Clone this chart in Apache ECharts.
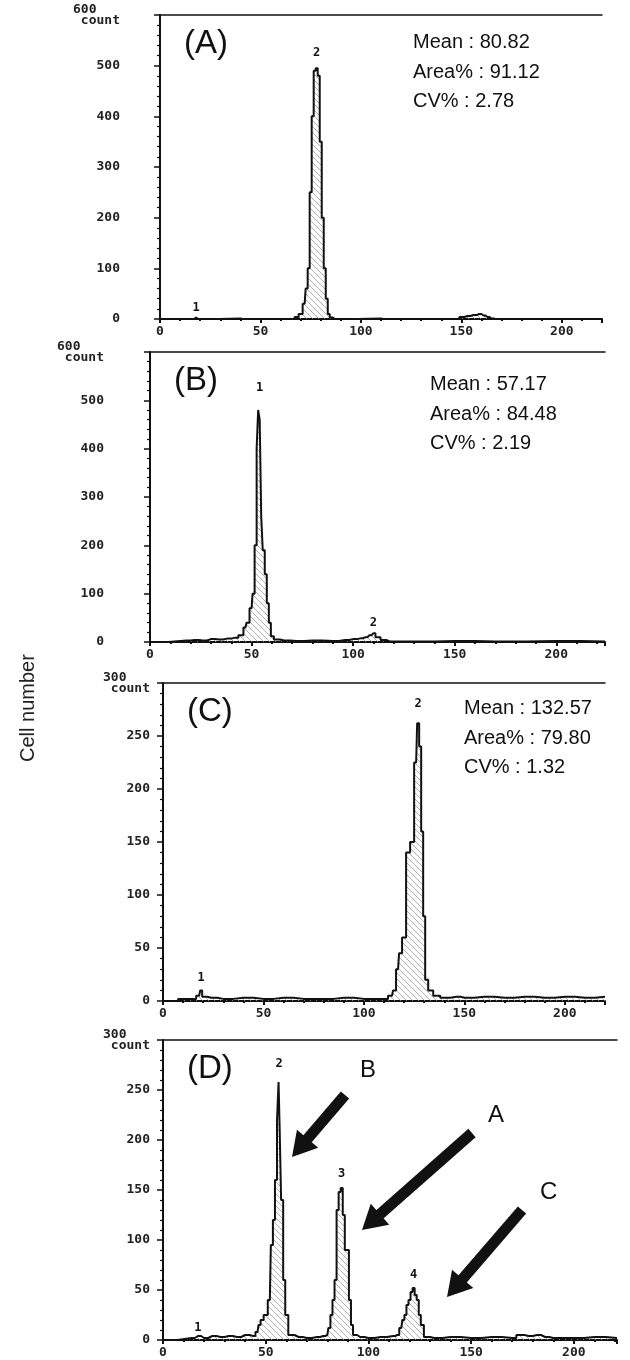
<!DOCTYPE html>
<html><head><meta charset="utf-8">
<script src="https://cdn.jsdelivr.net/npm/echarts@6/dist/echarts.min.js"></script>
<style>html,body{margin:0;background:#fff}#main{width:630px;height:1360px}</style>
</head><body><div id="main"></div>
<script>
// histogram data: [channel, count]
var histA = [[0,0],[16,0],[18,3],[19,0],[40,1],[41,0],[66,0],[68,4],[70,10],[72,30],[73,60],[74,100],[75,250],[76,400],[77,490],[78,495],[79,480],[80,350],[81,200],[82,100],[83,40],[84,10],[85,3],[87,0],[110,1],[111,0],[148,0],[150,4],[153,6],[156,8],[159,10],[161,7],[163,4],[165,1],[167,0],[220,0]];
var histB = [[0,0],[18,3],[22,4],[26,3],[30,6],[34,5],[38,7],[42,9],[45,14],[47,30],[48,40],[50,70],[51,100],[52,200],[53,400],[53.5,480],[54.5,460],[55,260],[56,190],[57,140],[58,80],[59,40],[60,12],[62,5],[66,3],[72,2],[80,3],[90,2],[96,4],[100,6],[104,8],[106,10],[108,14],[110,18],[112,10],[115,4],[118,1],[130,1],[150,2],[170,1],[200,2],[224,1]];
var histC = [[0,0],[15,2],[18,5],[19,10],[20,4],[24,3],[30,2],[40,3],[50,2],[60,3],[70,2],[80,2],[90,3],[100,2],[110,2],[114,5],[115,10],[117,30],[118,45],[120,60],[122,140],[124,150],[126,225],[127,262],[128,240],[129,160],[130,80],[131,20],[133,10],[136,5],[140,3],[146,4],[150,3],[160,4],[170,3],[180,4],[190,3],[200,4],[210,3],[220,4]];
var histD = [[0,0],[14,2],[17,4],[20,2],[24,4],[28,3],[32,4],[36,3],[40,5],[44,4],[46,8],[47,15],[48,20],[50,25],[52,40],[53,95],[54,120],[55,160],[56,220],[56.5,258],[57,215],[58,140],[59,60],[60,25],[62,5],[66,3],[70,2],[75,3],[78,4],[80,5],[81,12],[82,25],[83,40],[84,60],[85,130],[86,148],[87,152],[88,125],[89,90],[90,90],[91,40],[92,15],[93,5],[96,3],[100,2],[106,3],[112,4],[114,5],[116,12],[117,20],[118,25],[119,35],[120,40],[121,48],[122,52],[123,45],[124,40],[125,25],[126,15],[128,3],[132,2],[140,3],[150,2],[160,3],[170,2],[174,5],[178,4],[182,5],[186,3],[190,2],[200,2],[210,3],[221,2]];
var yMaxList = [600, 600, 300, 300];
var yStepList = [100, 100, 50, 50];
var xMaxList = [220, 224, 220, 221];
var peakLabels = [
  [[18, 1, 22], [78, 2, 525]],
  [[54, 1, 525], [110, 2, 40]],
  [[19, 1, 22], [127, 2, 280]],
  [[17, 1, 12], [56.5, 2, 276], [87, 3, 166], [122, 4, 65]]
];
var statTexts = [
  ['Mean : 80.82', 'Area% : 91.12', 'CV% : 2.78'],
  ['Mean : 57.17', 'Area% : 84.48', 'CV% : 2.19'],
  ['Mean : 132.57', 'Area% : 79.80', 'CV% : 1.32'],
  null
];
var panelNames = ['(A)', '(B)', '(C)', '(D)'];

var hists = [histA, histB, histC, histD];
var grids = [
  {left: 160, top: 15, width: 442, height: 304},
  {left: 150, top: 352, width: 455, height: 290},
  {left: 163, top: 683, width: 442, height: 318},
  {left: 163, top: 1040, width: 454, height: 300}
];
var yLabelMargin = [40, 46, 13, 13];

// hatch pattern
var pat = document.createElement('canvas');
pat.width = 6; pat.height = 6;
var pc = pat.getContext('2d');
pc.strokeStyle = '#999'; pc.lineWidth = 0.8;
pc.beginPath(); pc.moveTo(0, 0); pc.lineTo(6, 6); pc.stroke();
pc.beginPath(); pc.moveTo(-3, 3); pc.lineTo(3, 9); pc.stroke();
pc.beginPath(); pc.moveTo(3, -3); pc.lineTo(9, 3); pc.stroke();

var tickFont = {fontFamily: 'DejaVu Sans Mono', fontWeight: 'bold', fontSize: 13, color: '#222'};
var xAxes = [], yAxes = [], series = [], graphics = [];
grids.forEach(function (g, i) {
  xAxes.push({gridIndex: i, type: 'value', min: 0, max: xMaxList[i], interval: 50,
    axisLine: {lineStyle: {color: '#111', width: 2}},
    axisTick: {show: true, length: 4, lineStyle: {color: '#111', width: 2}},
    minorTick: {show: true, splitNumber: 5, length: 2, lineStyle: {color: '#111', width: 2}},
    splitLine: {show: false},
    axisLabel: Object.assign({margin: 6, showMaxLabel: false}, tickFont)});
  xAxes.push({gridIndex: i, type: 'value', position: 'top', min: 0, max: xMaxList[i],
    axisLine: {onZero: false, lineStyle: {color: '#111', width: 1.5}},
    axisTick: {show: false}, axisLabel: {show: false}, splitLine: {show: false}});
  var ym = yMaxList[i];
  yAxes.push({gridIndex: i, type: 'value', min: 0, max: ym, interval: yStepList[i],
    axisLine: {show: true, lineStyle: {color: '#111', width: 2}},
    axisTick: {show: true, length: 6, lineStyle: {color: '#111', width: 1.5}},
    minorTick: {show: true, splitNumber: 5, length: 3, lineStyle: {color: '#111', width: 1.2}},
    splitLine: {show: false},
    axisLabel: Object.assign({margin: yLabelMargin[i], align: 'right',
      formatter: function (v) { return v === ym ? '{t|' + v + '   }\n{t|count}' : '{t|' + v + '}'; },
      rich: {t: Object.assign({lineHeight: 11}, tickFont)}}, tickFont)});
  series.push({type: 'line', xAxisIndex: i * 2, yAxisIndex: i, data: hists[i], step: 'middle',
    symbol: 'none', lineStyle: {color: '#111', width: 2},
    areaStyle: {color: {image: pat, repeat: 'repeat'}, opacity: 1},
    markPoint: {symbol: 'circle', symbolSize: 0,
      label: {show: true, position: 'inside', formatter: '{b}', fontFamily: 'DejaVu Sans Mono', fontWeight: 'bold', fontSize: 12, color: '#111'},
      data: peakLabels[i].map(function (p) { return {name: String(p[1]), coord: [p[0], p[2]]}; })}});
  graphics.push({type: 'text', left: g.left + 24, top: g.top + 12,
    style: {text: panelNames[i], font: '33px "Liberation Sans"', fill: '#111'}});
  if (statTexts[i]) {
    var sx = [413, 430, 464][i], sy = [28, 370, 694][i];
    graphics.push({type: 'text', left: sx, top: sy,
      style: {text: statTexts[i].join('\n'), font: '20px "Liberation Sans"', lineHeight: 29.5, fill: '#111'}});
  }
});

// arrows in panel D
var arrows = [[345, 1095, 292, 1157, 'B', 360, 1058], [472, 1133, 362, 1230, 'A', 488, 1103], [522, 1210, 447, 1297, 'C', 540, 1180]];
arrows.forEach(function (a) {
  var dx = a[2] - a[0], dy = a[3] - a[1], L = Math.sqrt(dx * dx + dy * dy);
  var ux = dx / L, uy = dy / L, nx = -uy, ny = ux, h = 24, w = 14;
  var bx = a[2] - ux * h, by = a[3] - uy * h;
  graphics.push({type: 'line', shape: {x1: a[0], y1: a[1], x2: bx + ux * 4, y2: by + uy * 4}, style: {stroke: '#111', lineWidth: 11}});
  graphics.push({type: 'polygon', shape: {points: [[a[2], a[3]], [bx + nx * w, by + ny * w], [bx - nx * w, by - ny * w]]}, style: {fill: '#111'}});
  graphics.push({type: 'text', left: a[5], top: a[6], style: {text: a[4], font: '24px "Liberation Sans"', fill: '#111'}});
});
graphics.push({type: 'text', x: 18, y: 762, rotation: Math.PI / 2,
  style: {text: 'Cell number', font: '20px "Liberation Sans"', fill: '#222'}});

var chart = echarts.init(document.getElementById('main'));
chart.setOption({animation: false, grid: grids, xAxis: xAxes, yAxis: yAxes, series: series, graphic: graphics});
</script></body></html>
